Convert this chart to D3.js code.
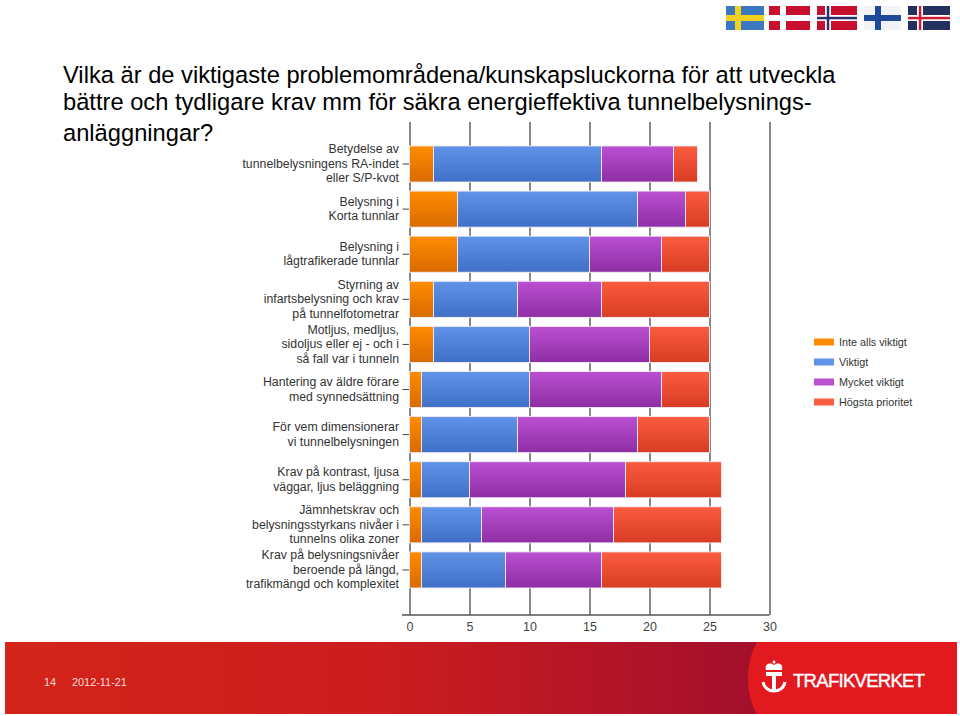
<!DOCTYPE html>
<html>
<head>
<meta charset="utf-8">
<style>
html, body { margin: 0; padding: 0; background: #fff; }
svg { display: block; font-family: "Liberation Sans", Arial, sans-serif; }
.axis path { display: none; }
.axis--x .tick line { stroke: #555; stroke-width: 1.4; }
.axis--y .tick line { stroke: #444; stroke-width: 1; }
.axis--x text { font-size: 12.5px; fill: #444; }
.cat { font-size: 12.3px; fill: #333; }
.legend text { font-size: 10.8px; fill: #333; }
</style>
</head>
<body>
<svg width="960" height="716"></svg>
<script src="https://cdn.jsdelivr.net/npm/d3@7/dist/d3.min.js"></script>
<script>
var titleLines = [
  "Vilka är de viktigaste problemområdena/kunskapsluckorna för att utveckla",
  "bättre och tydligare krav mm för säkra energieffektiva tunnelbelysnings-",
  "anläggningar?"
];

var categories = [
  ["Betydelse av", "tunnelbelysningens RA-indet", "eller S/P-kvot"],
  ["Belysning i", "Korta tunnlar"],
  ["Belysning i", "lågtrafikerade tunnlar"],
  ["Styrning av", "infartsbelysning och krav", "på tunnelfotometrar"],
  ["Motljus, medljus,", "sidoljus eller ej - och i", "så fall var i tunneln"],
  ["Hantering av äldre förare", "med synnedsättning"],
  ["För vem dimensionerar", "vi tunnelbelysningen"],
  ["Krav på kontrast, ljusa", "väggar, ljus beläggning"],
  ["Jämnhetskrav och", "belysningsstyrkans nivåer i", "tunnelns olika zoner"],
  ["Krav på belysningsnivåer", "beroende på längd,", "trafikmängd och komplexitet"]
];

var seriesNames = ["Inte alls viktigt", "Viktigt", "Mycket viktigt", "Högsta prioritet"];
var inteAlls = [2, 4, 4, 2, 2, 1, 1, 1, 1, 1];
var viktigt = [14, 15, 11, 7, 8, 9, 8, 4, 5, 7];
var mycket = [6, 4, 6, 7, 10, 11, 10, 13, 11, 8];
var hogsta = [2, 2, 4, 9, 5, 4, 6, 8, 9, 10];
var xTicks = [0, 5, 10, 15, 20, 25, 30];

var seriesColors = [
  ["#ff8c00", "#d96a00"],
  ["#6094e8", "#3f6fc6"],
  ["#bb50d2", "#8e2ea4"],
  ["#fa5c40", "#d83c22"]
];

var svg = d3.select("svg");
var defs = svg.append("defs");

var x = d3.scaleLinear().domain([0, 30]).range([409.5, 769.5]);
var y = d3.scaleBand()
    .domain(d3.range(categories.length))
    .range([122, 615])
    .paddingInner(0.2)
    .paddingOuter(0.565)
    .align(0.47);

// title
svg.append("g").selectAll("text")
  .data(titleLines)
  .enter().append("text")
    .attr("x", 63)
    .attr("y", function(d, i) { return [83, 110, 141][i]; })
    .style("font-size", "23.7px")
    .attr("fill", "#000")
    .text(function(d) { return d; });

// flags
var flags = [
  {x: 726, w: 38, bg: "#3a78c0", cross: "#f2d020", inner: null, vx: 9},
  {x: 769, w: 41, bg: "#c8102e", cross: "#fff", inner: null, vx: 11},
  {x: 817, w: 40, bg: "#c8102e", cross: "#fff", inner: "#2a2f70", vx: 8},
  {x: 864, w: 37, bg: "#f2f3f6", cross: "#1f4a9c", inner: null, vx: 11},
  {x: 908, w: 42, bg: "#24305e", cross: "#fff", inner: "#d01c30", vx: 9}
];
var flag = svg.append("g").selectAll("g")
  .data(flags)
  .enter().append("g")
    .attr("transform", function(d) { return "translate(" + d.x + ",6)"; });
flag.append("rect").attr("width", function(d) { return d.w; }).attr("height", 24).attr("fill", function(d) { return d.bg; });
flag.append("rect").attr("x", function(d) { return d.vx; }).attr("width", 6).attr("height", 24).attr("fill", function(d) { return d.cross; });
flag.append("rect").attr("y", 9).attr("width", function(d) { return d.w; }).attr("height", 6).attr("fill", function(d) { return d.cross; });
flag.filter(function(d) { return d.inner; }).append("rect").attr("x", function(d) { return d.vx + 1.8; }).attr("width", 2.5).attr("height", 24).attr("fill", function(d) { return d.inner; });
flag.filter(function(d) { return d.inner; }).append("rect").attr("y", 10.8).attr("width", function(d) { return d.w; }).attr("height", 2.5).attr("fill", function(d) { return d.inner; });

// axes
svg.append("g")
    .attr("class", "axis axis--x")
    .attr("transform", "translate(0,615)")
    .call(d3.axisBottom(x).tickValues(xTicks).tickSize(0).tickPadding(7));

svg.select(".axis--x").selectAll(".tick").append("line")
    .attr("y1", 0)
    .attr("y2", -493);

svg.append("line")
    .attr("x1", 402).attr("x2", 769.5)
    .attr("y1", 615).attr("y2", 615)
    .attr("stroke", "#555").attr("stroke-width", 1.4);

var yAxis = svg.append("g")
    .attr("class", "axis axis--y")
    .attr("transform", "translate(409.5,0)")
    .call(d3.axisLeft(y).tickSize(7).tickFormat(""));

// category labels, wrapped by hand like the original
svg.append("g").selectAll("text")
  .data(categories)
  .enter().append("text")
    .attr("class", "cat")
    .attr("text-anchor", "end")
    .attr("y", function(d, i) { return y(i) + y.bandwidth() / 2 + 4; })
  .selectAll("tspan")
  .data(function(d) { return d.map(function(t, j) { return {t: t, off: (j - (d.length - 1) / 2) * 14.5}; }); })
  .enter().append("tspan")
    .attr("x", 399)
    .attr("dy", function(d, j) { return j == 0 ? d.off : 14.5; })
    .text(function(d) { return d.t; });

// bars
seriesColors.forEach(function(c, i) {
  var grad = defs.append("linearGradient")
      .attr("id", "grad" + i)
      .attr("x1", 0).attr("y1", 0).attr("x2", 0).attr("y2", 1);
  grad.append("stop").attr("offset", "0%").attr("stop-color", c[0]);
  grad.append("stop").attr("offset", "100%").attr("stop-color", c[1]);
});

var table = categories.map(function(c, i) {
  return {i: i, a: inteAlls[i], b: viktigt[i], c: mycket[i], d: hogsta[i]};
});
var stack = d3.stack().keys(["a", "b", "c", "d"]);

svg.append("g").selectAll("g")
  .data(stack(table))
  .enter().append("g")
    .attr("fill", function(d, i) { return "url(#grad" + i + ")"; })
  .selectAll("rect")
  .data(function(d) { return d; })
  .enter().append("rect")
    .attr("x", function(d) { return x(d[0]); })
    .attr("y", function(d) { return y(d.data.i); })
    .attr("width", function(d) { return x(d[1]) - x(d[0]); })
    .attr("height", y.bandwidth())
    .attr("stroke", "#f4ecf4")
    .attr("stroke-width", 0.9);

// legend
var legend = svg.append("g").selectAll("g")
  .data(seriesNames)
  .enter().append("g")
    .attr("class", "legend")
    .attr("transform", function(d, i) { return "translate(814," + (342 + i * 20) + ")"; });

legend.append("rect")
    .attr("y", -3.5)
    .attr("width", 20)
    .attr("height", 7)
    .attr("fill", function(d, i) { return seriesColors[i][0]; });

legend.append("text")
    .attr("x", 25)
    .attr("dy", "0.35em")
    .text(function(d) { return d; });

// footer
var footGrad = defs.append("linearGradient").attr("id", "foot");
footGrad.append("stop").attr("offset", "0%").attr("stop-color", "#d4241a");
footGrad.append("stop").attr("offset", "50%").attr("stop-color", "#cc1d1f");
footGrad.append("stop").attr("offset", "100%").attr("stop-color", "#a30f2c");

svg.append("rect")
    .attr("x", 5).attr("y", 642)
    .attr("width", 752).attr("height", 72)
    .attr("fill", "url(#foot)");
svg.append("path")
    .attr("d", "M757,642H957V714H757C745,695 745,662 757,642Z")
    .attr("fill", "#e2191f");

svg.append("text").attr("x", 44).attr("y", 686)
    .attr("fill", "#f6dcd8").style("font-size", "10.9px").text("14");
svg.append("text").attr("x", 72).attr("y", 686)
    .attr("fill", "#f6dcd8").style("font-size", "10.9px").text("2012-11-21");

// logo
var logo = svg.append("g")
    .attr("transform", "translate(774,677)")
    .attr("fill", "none").attr("stroke", "#fff");
logo.append("path").attr("d", "M-8,-3H8M0,-3V13").attr("stroke-width", 4);
logo.append("path").attr("d", "M-11,5C-9,17 9,17 11,5").attr("stroke-width", 3);
logo.append("path").attr("d", "M-8,-7C-10,-14 -3,-15 0,-12C3,-15 10,-14 8,-7Z").attr("fill", "#fff").attr("stroke", "none");
logo.append("circle").attr("cy", -15).attr("r", 1.5).attr("fill", "#fff").attr("stroke", "none");

svg.append("text")
    .attr("x", 793).attr("y", 687)
    .attr("fill", "#fff")
    .attr("stroke", "#fff")
    .attr("stroke-width", 0.4)
    .style("font-size", "18.5px")
    .attr("textLength", 132)
    .text("TRAFIKVERKET");
</script>
</body>
</html>
